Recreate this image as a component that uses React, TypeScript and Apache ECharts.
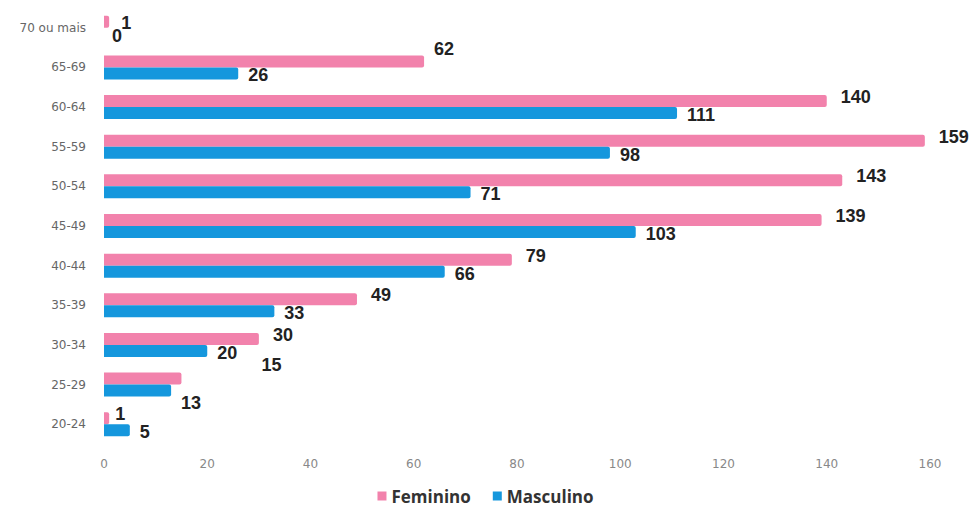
import React, { useEffect, useRef } from "react";
import * as echarts from "echarts";

const categories = ["20-24", "25-29", "30-34", "35-39", "40-44", "45-49", "50-54", "55-59", "60-64", "65-69", "70 ou mais"];
const feminino = [1, 15, 30, 49, 79, 139, 143, 159, 140, 62, 1];
const masculino = [5, 13, 20, 33, 66, 103, 71, 98, 111, 26, 0];
const xTicks = { min: 0, max: 160, interval: 20 };

// label placement tweaks (style only), indexed like categories
const femLabelOffsets: Record<number, [number, number]> = { 0: [-4, -4], 1: [70, -14], 9: [0, -12], 10: [2, 1] };
const mascLabelOffsets: Record<number, [number, number]> = { 1: [0, 12], 10: [-2, 2] };

export default function App() {
  const ref = useRef<HTMLDivElement>(null);
  useEffect(() => {
    if (!ref.current) return;
    const chart = echarts.init(ref.current, null, { renderer: "svg" });
    const labelStyle = {
      show: true,
      position: "right" as const,
      distance: 10,
      color: "#222",
      fontWeight: "bold" as const,
      fontSize: 18,
      fontFamily: "Liberation Sans, Arial, sans-serif",
    };
    const withOffsets = (vals: number[], offs: Record<number, [number, number]>, def: [number, number]) =>
      vals.map((v, i) => ({ value: v, label: { offset: offs[i] ?? def } }));
    chart.setOption({
      animation: false,
      backgroundColor: "#fff",
      grid: { left: 104, right: 41, top: 8, bottom: 66, containLabel: false },
      legend: {
        top: 486,
        left: "center",
        padding: 0,
        data: ["Feminino", "Masculino"],
        icon: "rect",
        itemWidth: 9,
        itemHeight: 9,
        itemGap: 22,
        textStyle: { fontSize: 17, lineHeight: 20, fontWeight: "bold", color: "#333", fontFamily: "Open Sans, sans-serif" },
      },
      xAxis: {
        type: "value",
        min: xTicks.min,
        max: xTicks.max,
        interval: xTicks.interval,
        axisLine: { show: false },
        axisTick: { show: false },
        splitLine: { show: false },
        axisLabel: { color: "#888", fontSize: 12, margin: 14, fontFamily: "DejaVu Sans, sans-serif" },
      },
      yAxis: {
        type: "category",
        data: categories,
        axisLine: { show: false },
        axisTick: { show: false },
        axisLabel: { color: "#666", fontSize: 12, margin: 18, fontFamily: "DejaVu Sans, sans-serif" },
      },
      series: [
        {
          name: "Feminino",
          type: "bar",
          data: withOffsets(feminino, femLabelOffsets, [4, -4]),
          barWidth: 12,
          barGap: "0%",
          itemStyle: { color: "#F282AC", borderRadius: [0, 2, 2, 0] },
          label: { ...labelStyle },
        },
        {
          name: "Masculino",
          type: "bar",
          data: withOffsets(masculino, mascLabelOffsets, [0, 2]),
          barWidth: 12,
          barGap: "0%",
          itemStyle: { color: "#1597DD", borderRadius: [0, 2, 2, 0] },
          label: { ...labelStyle },
        },
      ],
    });
    return () => chart.dispose();
  }, []);
  return <div ref={ref} style={{ position: "fixed", left: 0, top: 0, width: 971, height: 510 }} />;
}
